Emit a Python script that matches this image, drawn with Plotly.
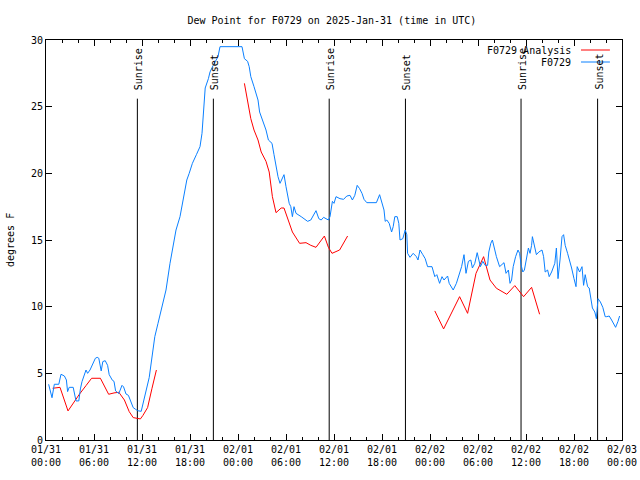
import plotly.graph_objects as go
import pandas as pd

BASE = pd.Timestamp("2025-01-31 00:00")

# Observed dew point (F0729): hours since 01/31 00:00 UTC, value in F
obs_hours = [0.33, 0.75, 1.04, 1.6, 1.875, 2.3, 2.55, 2.7, 2.9, 3.4, 3.75, 4.1, 4.3, 4.5, 5.0, 5.2, 5.5, 5.8,
             6.17, 6.4, 6.6, 6.9, 7.1, 7.4, 7.7, 7.9, 8.3, 8.5, 8.7, 9.1, 9.5, 9.7, 10.0, 10.3, 10.6, 10.9,
             11.2, 11.45, 11.9, 12.1, 12.5, 12.9, 13.2, 13.6, 14.0, 14.5, 15.0, 15.5, 15.9, 16.25, 16.75,
             17.2, 17.6, 17.9, 18.3, 18.8, 19.25, 19.5, 19.7, 19.9, 20.3, 20.5, 20.9, 21.5, 21.75, 24.5,
             24.8, 25.2, 25.4, 25.6, 26.0, 26.5, 26.7, 27.1, 27.5, 27.8, 28.25, 28.5, 28.75, 29.0, 29.25,
             29.6, 29.75, 30.0, 30.25, 30.4, 30.6, 30.8, 31.0, 31.25, 31.9, 32.3, 32.7, 33.1, 33.75, 34.1,
             34.4, 34.7, 35.0, 35.3, 35.5, 35.6, 35.8, 36.0, 36.25, 36.75, 37.2, 37.6, 38.0, 38.3, 38.6,
             38.9, 39.2, 39.5, 39.75, 40.1, 41.3, 41.7, 42.0, 42.25, 42.4, 42.6, 42.9, 43.2, 43.4, 43.6,
             43.9, 44.1, 44.25, 44.6, 44.9, 45.1, 45.2, 45.5, 45.9, 46.3, 46.5, 46.75, 47.1, 47.4, 47.7,
             48.25, 48.6, 48.85, 49.2, 49.5, 49.75, 50.2, 50.4, 50.9, 51.3, 51.75, 51.95, 52.25, 52.5,
             52.8, 53.1, 53.3, 53.6, 53.9, 54.1, 54.3, 54.6, 54.9, 55.2, 55.35, 55.6, 55.8, 56.1, 56.3,
             56.7, 57.0, 57.25, 57.5, 57.8, 58.0, 58.2, 58.4, 58.7, 59.0, 59.2, 59.4, 59.6, 59.8, 60.0,
             60.3, 60.5, 60.7, 60.8, 61.1, 61.3, 61.6, 62.0, 62.2, 62.4, 62.7, 62.9, 63.2, 63.6, 63.8,
             64.0, 64.25, 64.5, 64.7, 64.9, 65.2, 65.5, 65.7, 66.0, 66.25, 66.4, 66.7, 67.0, 67.2, 67.4,
             67.7, 67.9, 68.1, 68.3, 68.6, 68.8, 69.0, 69.3, 69.6, 69.9, 70.1, 70.4, 70.7, 71.0, 71.2,
             71.5, 71.7]
obs_values = [4.18, 3.17, 4.18, 4.18, 4.93, 4.8, 4.5, 3.63, 3.95, 3.95, 2.93, 2.93, 3.83, 4.38, 5.25, 5.0, 5.25, 5.6,
              6.13, 6.2, 6.13, 5.18, 5.88, 5.95, 5.6, 4.9, 4.48, 4.4, 3.68, 3.48, 4.1, 3.98, 3.45, 3.35, 2.8, 2.43,
              2.3, 2.2, 2.15, 2.7, 3.55, 4.68, 6.0, 7.75, 8.75, 10.0, 11.25, 13.25, 14.5, 15.75, 16.75,
              18.1, 19.5, 20.0, 20.75, 21.4, 22.0, 23.0, 25.0, 26.4, 27.1, 27.6, 28.1, 28.75, 29.5, 29.5,
              28.6, 28.4, 28.0, 27.25, 26.5, 25.5, 24.6, 24.0, 23.25, 22.5, 22.25, 21.4, 20.5, 19.75, 19.25,
              19.75, 19.9, 19.0, 18.25, 17.75, 17.5, 16.75, 17.5, 17.0, 16.75, 16.6, 16.4, 16.5, 17.2, 16.6,
              16.5, 16.7, 16.6, 16.5, 16.75, 17.25, 17.9, 17.75, 18.25, 18.1, 18.05, 18.3, 18.35, 18.0, 18.35,
              19.1, 18.85, 18.5, 18.05, 17.8, 17.8, 18.4, 17.75, 17.25, 16.4, 16.5, 16.25, 15.6, 16.0, 16.75,
              16.75, 16.25, 15.0, 15.1, 15.75, 15.4, 14.0, 13.7, 14.0, 13.75, 13.5, 14.25, 13.9, 13.6, 13.0,
              13.0, 12.25, 12.4, 11.75, 12.25, 12.0, 12.3, 11.75, 11.25, 11.75, 12.75, 13.0, 13.9, 12.5,
              13.4, 13.5, 12.9, 13.25, 14.05, 13.6, 13.0, 13.4, 13.1, 13.1, 14.1, 14.75, 15.0, 14.25, 13.75,
              13.0, 13.2, 13.3, 12.5, 12.75, 11.75, 12.0, 13.0, 13.75, 14.25, 14.0, 13.1, 12.6, 12.75, 13.5,
              14.4, 14.0, 14.6, 15.25, 14.5, 13.9, 14.1, 14.25, 13.75, 12.6, 12.75, 12.25, 12.6, 13.25, 14.4,
              12.1, 13.5, 15.25, 15.4, 14.6, 14.0, 13.4, 12.9, 12.1, 11.5, 13.0, 12.6, 13.0, 11.6, 12.4,
              11.5, 11.4, 10.5, 9.9, 9.6, 9.1, 10.6, 10.35, 9.95, 9.25, 9.25, 9.3, 9.0, 8.6, 8.45,
              8.9, 9.3]

# Analysis dew point (F0729 Analysis), None marks gaps
ana_hours = [0.83, 1.6, 1.75, 2.75, 3.5, 4.17, 5.0, 5.7, 6.8, 7.83, 8.5, 9.1, 9.8, 10.4, 10.9, 11.4, 11.8,
             12.1, 12.7, 13.25, 13.8, None,
             24.8, 25.2, 25.6, 26.0, 26.5, 26.9, 27.5, 27.9, 28.3, 28.75, 29.4, 29.75, 30.2, 30.8, 31.7,
             32.5, 33.1, 33.75, 34.8, 35.3, 35.75, 36.7, 37.7, None,
             48.6, 49.7, 51.7, 52.7, 53.75, 54.7, 55.5, 56.3, 57.6, 58.6, 59.7, 60.7, 61.7]
ana_values = [3.88, 3.93, 3.95, 2.18, 2.88, 3.43, 4.08, 4.63, 4.63, 3.43, 3.53, 3.58, 3.0, 2.13, 1.68, 1.63, 1.58,
              1.83, 2.43, 3.88, 5.25, None,
              26.75, 25.4, 24.1, 23.25, 22.5, 21.6, 20.9, 20.1, 18.25, 17.05, 17.4, 17.4, 16.6, 15.6, 14.75,
              14.8, 14.6, 14.45, 15.3, 14.45, 14.0, 14.25, 15.3, None,
              9.68, 8.33, 10.75, 9.5, 12.5, 13.75, 12.0, 11.38, 10.93, 11.58, 10.75, 11.45, 9.43]

# Sunrise / sunset events (hours since 01/31 00:00 UTC)
event_hours = [11.42, 20.92, 35.4, 44.93, 59.38, 68.95]
event_labels = ["Sunrise", "Sunset", "Sunrise", "Sunset", "Sunrise", "Sunset"]
event_top = 25.6
label_base = 26.1

y_ticks = [0, 5, 10, 15, 20, 25, 30]


def to_time(hours):
    return [None if h is None else BASE + pd.Timedelta(hours=h) for h in hours]


FONT = "DejaVu Sans Mono"
BLUE = "#0a80ff"
RED = "#ff0000"

fig = go.Figure()

# event vertical lines
ev_x, ev_y = [], []
for h in event_hours:
    t = BASE + pd.Timedelta(hours=h)
    ev_x += [t, t, None]
    ev_y += [0, event_top, None]
fig.add_trace(go.Scatter(x=ev_x, y=ev_y, mode="lines", line=dict(color="black", width=1),
                         showlegend=False, hoverinfo="skip"))

fig.add_trace(go.Scatter(x=to_time(ana_hours), y=ana_values, mode="lines", name="F0729 Analysis",
                         line=dict(color=RED, width=1), connectgaps=False, showlegend=False))
fig.add_trace(go.Scatter(x=to_time(obs_hours), y=obs_values, mode="lines", name="F0729",
                         line=dict(color=BLUE, width=1), showlegend=False))

for h, lab in zip(event_hours, event_labels):
    fig.add_annotation(x=BASE + pd.Timedelta(hours=h), y=label_base, text=lab, textangle=-90,
                       showarrow=False, xanchor="center", yanchor="bottom", xshift=1,
                       font=dict(family=FONT, size=10, color="black"))

# legend drawn gnuplot-style (text right aligned, sample on the right)
legend_items = [("F0729 Analysis", RED, 0.975), ("F0729", BLUE, 0.945)]
for text, col, yy in legend_items:
    fig.add_annotation(xref="paper", yref="paper", x=0.915, y=yy, text=text, showarrow=False,
                       xanchor="right", yanchor="middle", font=dict(family=FONT, size=10, color="black"))
    fig.add_shape(type="line", xref="paper", yref="paper", x0=0.9288, x1=0.979, y0=yy, y1=yy,
                  line=dict(color=col, width=1))

fig.add_annotation(xref="paper", yref="paper", x=-0.0625, y=0.5, text="degrees F", textangle=-90,
                   showarrow=False, xanchor="center", yanchor="middle",
                   font=dict(family=FONT, size=10, color="black"))

fig.update_layout(
    width=640, height=480,
    margin=dict(l=46, r=18, t=40, b=40, autoexpand=False),
    paper_bgcolor="white", plot_bgcolor="white",
    font=dict(family=FONT, size=10, color="black"),
    title=dict(text="Dew Point for F0729 on 2025-Jan-31 (time in UTC)", x=0.5186, xref="container",
               y=1 - 20 / 480, yref="container", xanchor="center", yanchor="middle",
               font=dict(family=FONT, size=10, color="black")),
    showlegend=False,
)

fig.update_xaxes(
    type="date",
    automargin=False,
    range=[BASE, BASE + pd.Timedelta(hours=72)],
    tickformat="%m/%d<br>%H:%M",
    dtick=6 * 3600 * 1000,
    tick0=BASE,
    ticks="inside", ticklen=6, tickcolor="black", tickwidth=1,
    minor=dict(dtick=2 * 3600 * 1000, ticks="inside", ticklen=3, tickcolor="black", tickwidth=1),
    showline=True, linecolor="black", linewidth=1, mirror="ticks",
    showgrid=False, zeroline=False,
    tickfont=dict(family=FONT, size=10, color="black"),
)
fig.update_yaxes(
    automargin=False,
    range=[0, 30],
    tickvals=y_ticks,
    ticks="inside", ticklen=6, tickcolor="black", tickwidth=1,
    showline=True, linecolor="black", linewidth=1, mirror="ticks",
    showgrid=False, zeroline=False,
    tickfont=dict(family=FONT, size=10, color="black"),
)

fig.write_html("out.html")
